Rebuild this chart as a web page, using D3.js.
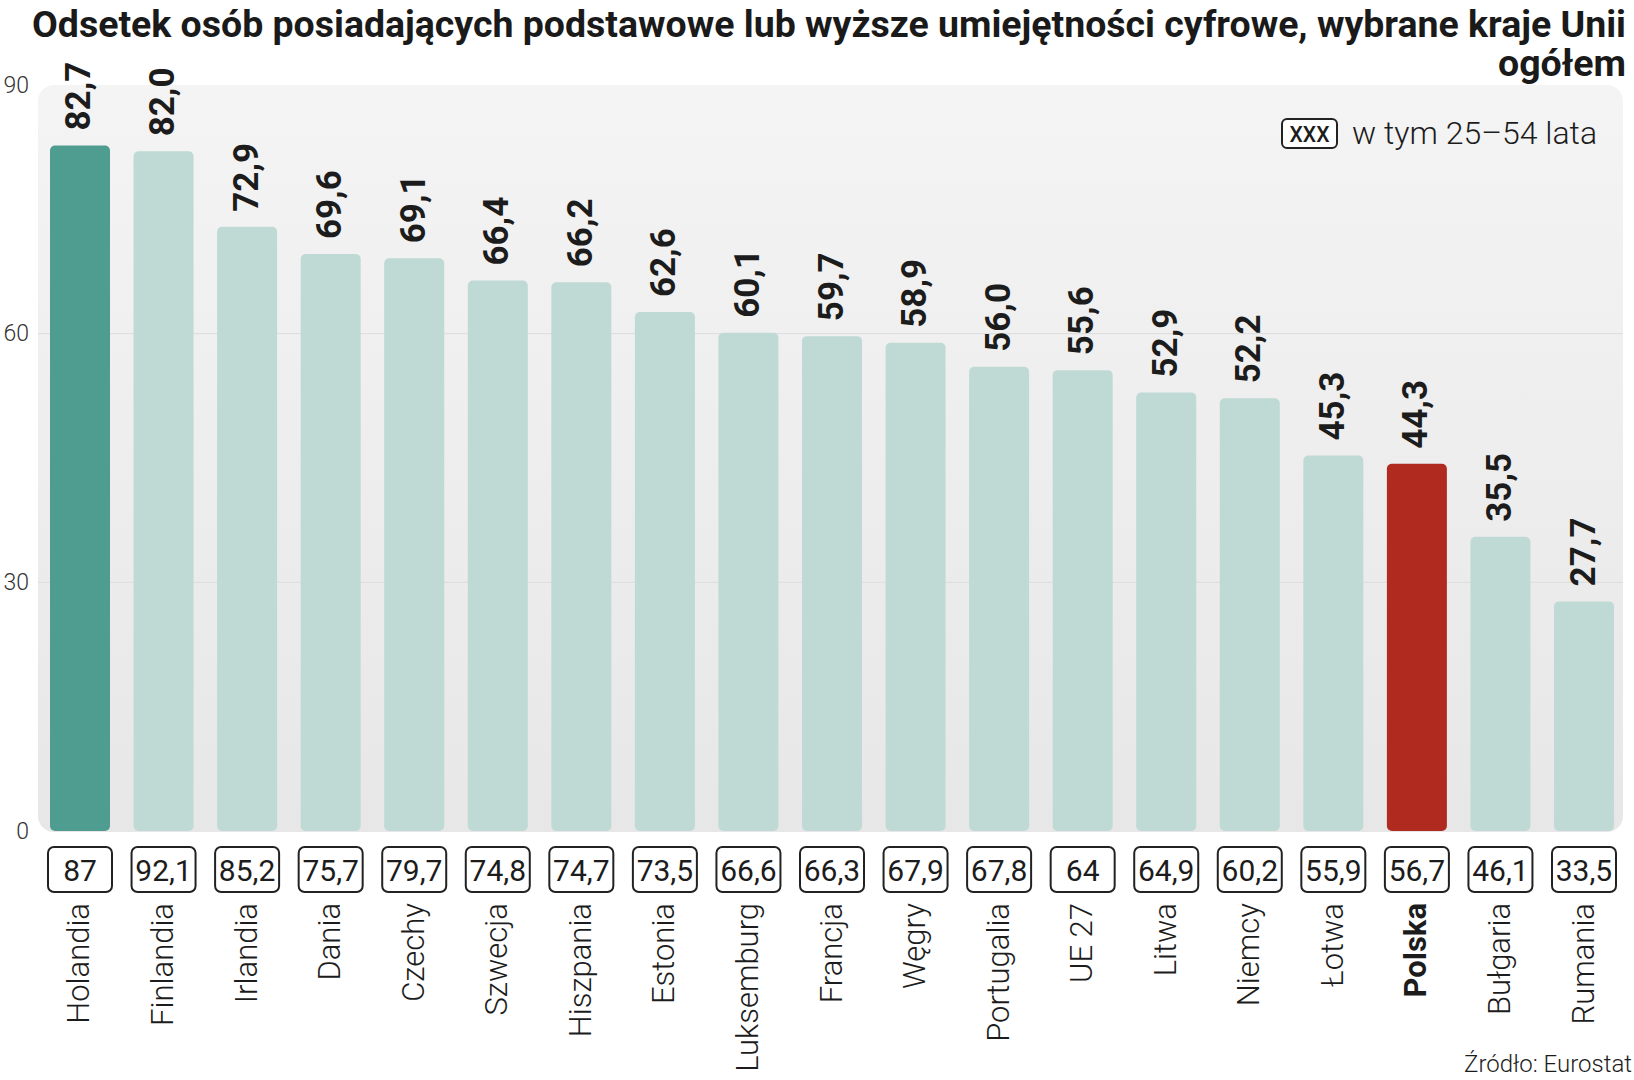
<!DOCTYPE html>
<html><head><meta charset="utf-8">
<script src="https://cdn.jsdelivr.net/npm/d3@7"></script>
<style>
html,body{margin:0;padding:0;background:#fff;}
svg{display:block;}
</style></head>
<body>
<svg id="chart" width="1634" height="1080"></svg>
<script>
const categories = ["Holandia","Finlandia","Irlandia","Dania","Czechy","Szwecja","Hiszpania","Estonia","Luksemburg","Francja","Węgry","Portugalia","UE 27","Litwa","Niemcy","Łotwa","Polska","Bułgaria","Rumania"];
const totalValues = [82.7,82.0,72.9,69.6,69.1,66.4,66.2,62.6,60.1,59.7,58.9,56.0,55.6,52.9,52.2,45.3,44.3,35.5,27.7];
const age2554Values = [87,92.1,85.2,75.7,79.7,74.8,74.7,73.5,66.6,66.3,67.9,67.8,64,64.9,60.2,55.9,56.7,46.1,33.5];
const yTicks = [0,30,60,90];
const titleLines = ["Odsetek osób posiadających podstawowe lub wyższe umiejętności cyfrowe, wybrane kraje Unii","ogółem"];
const legendLabel = "w tym 25–54 lata";
const legendBoxText = "XXX";
const sourceText = "Źródło: Eurostat";

const bold = "Roboto,'Noto Sans',sans-serif";
const light = "Roboto,'Noto Sans',sans-serif";

const svg = d3.select("#chart");
const data = categories.map((c,i)=>({cat:c,total:totalValues[i],sub:age2554Values[i]}));

const x = d3.scaleBand().domain(categories).range([50,1614]).paddingInner(0.282).paddingOuter(0);
const y = d3.scaleLinear().domain([0,90]).range([831,85]);

const fmt1 = v => v.toFixed(1).replace(".",",");
const fmtSub = v => Number.isInteger(v) ? String(v) : v.toFixed(1).replace(".",",");

// background gradient
const defs = svg.append("defs");
const grad = defs.append("linearGradient").attr("id","bg").attr("x1",0).attr("y1",0).attr("x2",0).attr("y2",1);
grad.append("stop").attr("offset","0%").attr("stop-color","#f4f4f4");
grad.append("stop").attr("offset","100%").attr("stop-color","#e7e7e7");

svg.append("rect").attr("x",38).attr("y",y(90)).attr("width",1585).attr("height",y(0)-y(90)+1)
  .attr("rx",16).attr("fill","url(#bg)");

// gridlines
svg.append("g").selectAll("line").data(yTicks.filter(t=>t>0 && t<90)).join("line")
  .attr("x1",38).attr("x2",1623).attr("y1",d=>y(d)).attr("y2",d=>y(d))
  .attr("stroke","#dcdcdc").attr("stroke-width",1);

// y labels
svg.append("g").selectAll("text").data(yTicks).join("text")
  .attr("x",29).attr("y",d=>y(d)).attr("text-anchor","end").attr("dominant-baseline","central")
  .attr("font-family",light).attr("font-weight",300).attr("font-size",23).attr("fill","#333")
  .text(d=>d);

// bars
const colorFor = d => d.cat==="Holandia" ? "#4f9c90" : (d.cat==="Polska" ? "#b02a20" : "#bfdad4");
svg.append("g").selectAll("rect").data(data).join("rect")
  .attr("x",d=>x(d.cat)).attr("width",x.bandwidth())
  .attr("y",d=>y(d.total)).attr("height",d=>y(0)-y(d.total))
  .attr("rx",5).attr("fill",colorFor);

// value labels
svg.append("g").selectAll("text").data(data).join("text")
  .attr("transform",d=>`translate(${x(d.cat)+x.bandwidth()/2-1},${y(d.total)-15}) rotate(-90)`)
  .attr("text-anchor","start").attr("dominant-baseline","central")
  .attr("font-family",bold).attr("font-weight",700).attr("font-size",35).attr("fill","#1c1c1c")
  .text(d=>fmt1(d.total));

// bottom boxes
const bx = svg.append("g");
bx.selectAll("rect").data(data).join("rect")
  .attr("x",d=>x(d.cat)+x.bandwidth()/2-32).attr("y",847).attr("width",64).attr("height",45)
  .attr("rx",6).attr("fill","#fff").attr("stroke","#222").attr("stroke-width",2);
bx.selectAll("text").data(data).join("text")
  .attr("x",d=>x(d.cat)+x.bandwidth()/2).attr("y",870).attr("text-anchor","middle").attr("dominant-baseline","central")
  .attr("font-family",light).attr("font-weight",400).attr("font-size",30).attr("fill","#1c1c1c")
  .text(d=>fmtSub(d.sub));

// category labels
svg.append("g").selectAll("text").data(data).join("text")
  .attr("transform",d=>`translate(${x(d.cat)+x.bandwidth()/2-1},903) rotate(-90)`)
  .attr("text-anchor","end").attr("dominant-baseline","central")
  .attr("font-family",light).attr("font-weight",d=>d.cat==="Polska"?700:300).attr("font-size",31).attr("fill","#1c1c1c")
  .text(d=>d.cat);

// title
const t = svg.append("g");
t.append("text").attr("x",1626).attr("y",37).attr("text-anchor","end")
  .attr("font-family",bold).attr("font-weight",700).attr("font-size",37).attr("fill","#1a1a1a")
  .attr("textLength",1594).attr("lengthAdjust","spacingAndGlyphs")
  .text(titleLines[0]);
t.append("text").attr("x",1626).attr("y",76).attr("text-anchor","end")
  .attr("font-family",bold).attr("font-weight",700).attr("font-size",37).attr("fill","#1a1a1a")
  .attr("textLength",128).attr("lengthAdjust","spacingAndGlyphs")
  .text(titleLines[1]);

// legend
const lg = svg.append("g");
lg.append("rect").attr("x",1282).attr("y",119).attr("width",55).attr("height",29).attr("rx",5)
  .attr("fill","#fff").attr("stroke","#222").attr("stroke-width",2);
lg.append("text").attr("x",1309.5).attr("y",134).attr("text-anchor","middle").attr("dominant-baseline","central")
  .attr("font-family",light).attr("font-weight",500).attr("font-size",22).attr("fill","#1c1c1c")
  .attr("textLength",40).attr("lengthAdjust","spacingAndGlyphs").text(legendBoxText);
lg.append("text").attr("x",1352).attr("y",144).attr("font-family",light).attr("font-weight",300)
  .attr("font-size",32).attr("fill","#1c1c1c").text(legendLabel);

// source
svg.append("text").attr("x",1632).attr("y",1072).attr("text-anchor","end")
  .attr("font-family",light).attr("font-weight",300).attr("font-size",24).attr("fill","#1c1c1c").text(sourceText);
</script>
</body></html>
